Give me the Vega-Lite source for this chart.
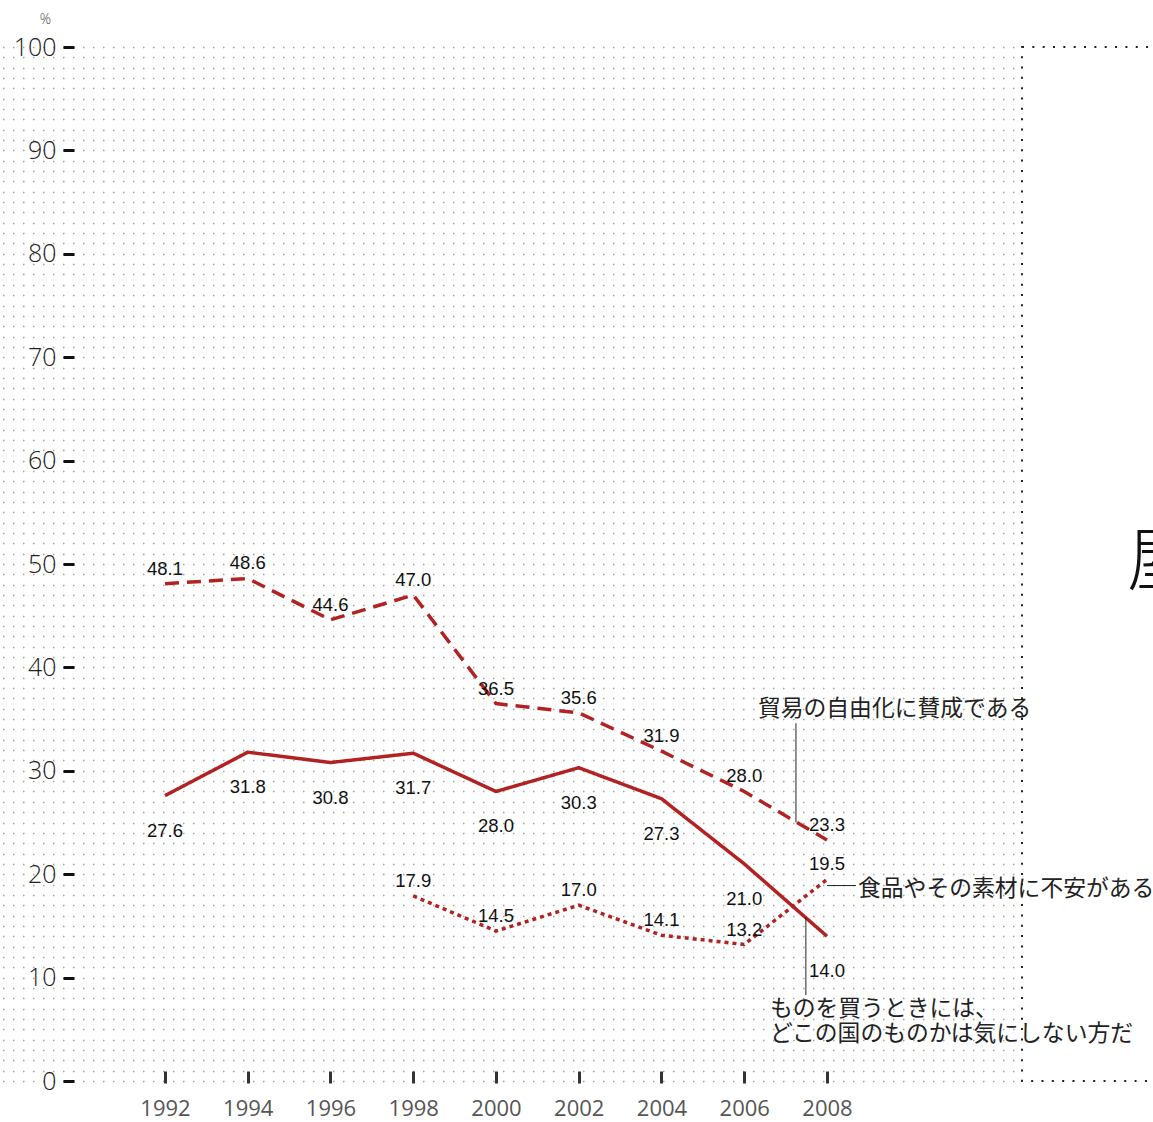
{
  "$schema": "https://vega.github.io/schema/vega-lite/v6.json",
  "padding": {"left": 0, "top": 12, "right": 0, "bottom": 0},
  "background": "white",
  "bounds": "flush",
  "spacing": 2,
  "config": {"view": {"stroke": null}},
  "datasets": {
    "series": [
      {"year": 1992, "value": 48.1, "series": "貿易の自由化に賛成である"},
      {"year": 1994, "value": 48.6, "series": "貿易の自由化に賛成である"},
      {"year": 1996, "value": 44.6, "series": "貿易の自由化に賛成である"},
      {"year": 1998, "value": 47.0, "series": "貿易の自由化に賛成である"},
      {"year": 2000, "value": 36.5, "series": "貿易の自由化に賛成である"},
      {"year": 2002, "value": 35.6, "series": "貿易の自由化に賛成である"},
      {"year": 2004, "value": 31.9, "series": "貿易の自由化に賛成である"},
      {"year": 2006, "value": 28.0, "series": "貿易の自由化に賛成である"},
      {"year": 2008, "value": 23.3, "series": "貿易の自由化に賛成である"},
      {"year": 1992, "value": 27.6, "series": "どこの国のものかは気にしない方だ"},
      {"year": 1994, "value": 31.8, "series": "どこの国のものかは気にしない方だ"},
      {"year": 1996, "value": 30.8, "series": "どこの国のものかは気にしない方だ"},
      {"year": 1998, "value": 31.7, "series": "どこの国のものかは気にしない方だ"},
      {"year": 2000, "value": 28.0, "series": "どこの国のものかは気にしない方だ"},
      {"year": 2002, "value": 30.3, "series": "どこの国のものかは気にしない方だ"},
      {"year": 2004, "value": 27.3, "series": "どこの国のものかは気にしない方だ"},
      {"year": 2006, "value": 21.0, "series": "どこの国のものかは気にしない方だ"},
      {"year": 2008, "value": 14.0, "series": "どこの国のものかは気にしない方だ"},
      {"year": 1998, "value": 17.9, "series": "食品やその素材に不安がある"},
      {"year": 2000, "value": 14.5, "series": "食品やその素材に不安がある"},
      {"year": 2002, "value": 17.0, "series": "食品やその素材に不安がある"},
      {"year": 2004, "value": 14.1, "series": "食品やその素材に不安がある"},
      {"year": 2006, "value": 13.2, "series": "食品やその素材に不安がある"},
      {"year": 2008, "value": 19.5, "series": "食品やその素材に不安がある"}
    ]
  },
  "hconcat": [
    {
      "width": 1020,
      "height": 1034,
      "data": {"name": "series"},
      "layer": [
        {
          "mark": {"type": "line", "color": "#b22222", "strokeWidth": 3.5, "strokeCap": "butt"},
          "encoding": {
            "x": {
              "field": "year", "type": "quantitative",
              "scale": {"domain": [1988.012, 2012.665], "nice": false, "zero": false},
              "axis": {
                "values": [1992, 1994, 1996, 1998, 2000, 2002, 2004, 2006, 2008],
                "format": "d", "offset": -10, "domain": false, "grid": false,
                "tickSize": 12, "tickWidth": 3, "tickColor": "#333",
                "labelPadding": 15, "labelFont": "Open Sans", "labelFontSize": 22,
                "labelColor": "#555", "labelFlush": false, "labelOverlap": false, "title": null
              }
            },
            "y": {
              "field": "value", "type": "quantitative",
              "scale": {"domain": [0, 100], "nice": false},
              "axis": {
                "values": [0,1,2,3,4,5,6,7,8,9,10,11,12,13,14,15,16,17,18,19,20,21,22,23,24,25,26,27,28,29,30,31,32,33,34,35,36,37,38,39,40,41,42,43,44,45,46,47,48,49,50,51,52,53,54,55,56,57,58,59,60,61,62,63,64,65,66,67,68,69,70,71,72,73,74,75,76,77,78,79,80,81,82,83,84,85,86,87,88,89,90,91,92,93,94,95,96,97,98,99,100],
                "tickCount": 500,
                "format": "d",
                "offset": -74, "domain": false,
                "grid": true, "gridDash": [1.5, 8.5], "gridDashOffset": 7.5, "gridColor": "#a0a0a0", "gridWidth": 1.5,
                "tickSize": 11, "tickWidth": 3, "tickColor": "#111",
                "tickOpacity": {"condition": {"test": "datum.value % 10 === 0", "value": 1}, "value": 0},
                "labelExpr": "datum.value % 10 === 0 ? datum.label : ''",
                "labelOverlap": false, "labelFlush": false,
                "labelFont": "Open Sans", "labelFontSize": 25, "labelFontWeight": 300, "labelColor": "#222", "labelPadding": 7,
                "title": "%", "titleAngle": 0, "titleX": -29, "titleY": -28,
                "titleFont": "Open Sans", "titleFontSize": 14, "titleFontWeight": 300,
                "titleColor": "#444", "titleAlign": "center", "titleBaseline": "middle"
              }
            },
            "strokeDash": {
              "field": "series", "type": "nominal",
              "scale": {
                "domain": ["貿易の自由化に賛成である", "どこの国のものかは気にしない方だ", "食品やその素材に不安がある"],
                "range": [[14, 8], [1, 0], [4, 4]]
              },
              "legend": null
            }
          }
        },
        {
          "transform": [{"filter": "datum.series === '貿易の自由化に賛成である'"}],
          "mark": {"type": "text", "font": "Liberation Sans", "fontSize": 18.5, "color": "#111", "dy": -15, "baseline": "middle"},
          "encoding": {
            "x": {"field": "year", "type": "quantitative"},
            "y": {"field": "value", "type": "quantitative"},
            "text": {"field": "value", "type": "quantitative", "format": ".1f"}
          }
        },
        {
          "transform": [{"filter": "datum.series === 'どこの国のものかは気にしない方だ'"}],
          "mark": {"type": "text", "font": "Liberation Sans", "fontSize": 18.5, "color": "#111", "dy": 35, "baseline": "middle"},
          "encoding": {
            "x": {"field": "year", "type": "quantitative"},
            "y": {"field": "value", "type": "quantitative"},
            "text": {"field": "value", "type": "quantitative", "format": ".1f"}
          }
        },
        {
          "transform": [{"filter": "datum.series === '食品やその素材に不安がある'"}],
          "mark": {"type": "text", "font": "Liberation Sans", "fontSize": 18.5, "color": "#111", "dy": -15, "baseline": "middle"},
          "encoding": {
            "x": {"field": "year", "type": "quantitative"},
            "y": {"field": "value", "type": "quantitative"},
            "text": {"field": "value", "type": "quantitative", "format": ".1f"}
          }
        },
        {
          "data": {"values": [{}]},
          "mark": {"type": "rule", "color": "#222", "strokeWidth": 1},
          "encoding": {"x": {"datum": 2007.25}, "y": {"datum": 34.6}, "y2": {"datum": 25.0}}
        },
        {
          "data": {"values": [{}]},
          "mark": {"type": "rule", "color": "#222", "strokeWidth": 1},
          "encoding": {"x": {"datum": 2008.0}, "x2": {"datum": 2008.7}, "y": {"datum": 18.9}}
        },
        {
          "data": {"values": [{}]},
          "mark": {"type": "rule", "color": "#222", "strokeWidth": 1},
          "encoding": {"x": {"datum": 2007.49}, "y": {"datum": 15.8}, "y2": {"datum": 8.3}}
        },
        {
          "data": {"values": [{}]},
          "mark": {"type": "text", "text": "貿易の自由化に賛成である", "font": "Noto Sans CJK JP", "fontSize": 22.8, "fontWeight": "normal", "color": "#222", "align": "left", "baseline": "middle"},
          "encoding": {"x": {"datum": 2006.33}, "y": {"datum": 35.98}}
        },
        {
          "data": {"values": [{}]},
          "mark": {"type": "text", "text": "食品やその素材に不安がある", "font": "Noto Sans CJK JP", "fontSize": 22.8, "fontWeight": "normal", "color": "#222", "align": "left", "baseline": "middle"},
          "encoding": {"x": {"datum": 2008.75}, "y": {"datum": 18.6}}
        },
        {
          "data": {"values": [{}]},
          "mark": {"type": "text", "text": ["ものを買うときには、", "どこの国のものかは気にしない方だ"], "lineHeight": 25, "font": "Noto Sans CJK JP", "fontSize": 22.8, "fontWeight": "normal", "color": "#222", "align": "left", "baseline": "middle"},
          "encoding": {"x": {"datum": 2006.62}, "y": {"datum": 6.96}}
        }
      ]
    },
    {
      "width": 140,
      "height": 1034,
      "view": {"stroke": "#222", "strokeWidth": 2, "strokeDash": [2, 8.34]},
      "data": {"values": [{}]},
      "mark": {"type": "text", "text": "屋", "font": "Noto Sans CJK JP", "fontSize": 70, "fontWeight": 300, "align": "left", "baseline": "middle", "color": "#111"},
      "encoding": {
        "x": {"datum": 0.75, "type": "quantitative", "scale": {"domain": [0, 1]}, "axis": null},
        "y": {"datum": 0.5, "type": "quantitative", "scale": {"domain": [0, 1]}, "axis": null}
      }
    }
  ]
}
